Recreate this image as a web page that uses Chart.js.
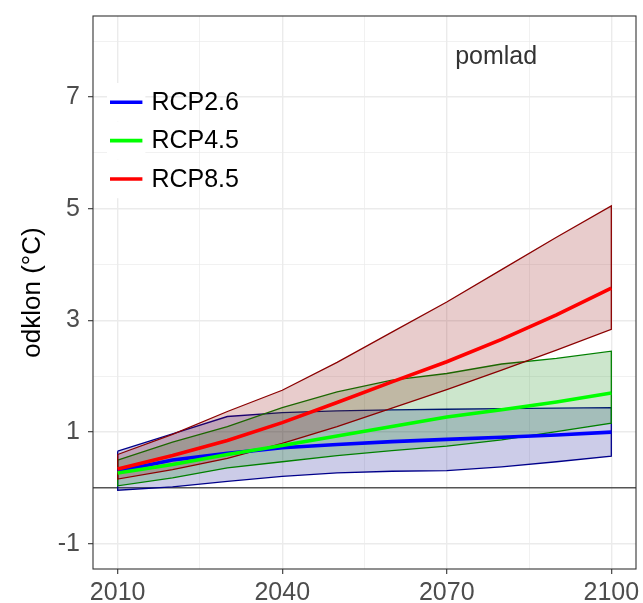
<!DOCTYPE html>
<html>
<head>
<meta charset="utf-8">
<script src="https://cdn.jsdelivr.net/npm/chart.js@4/dist/chart.umd.min.js"></script>
<style>
  html, body { margin: 0; padding: 0; background: #ffffff; }
  #wrap { width: 643px; height: 603px; }
</style>
</head>
<body>
<div id="wrap"><canvas id="c" width="643" height="603"></canvas></div>
<script>
// Spring temperature anomaly projections (°C), decadal steps
const years = [2010, 2020, 2030, 2040, 2050, 2060, 2070, 2080, 2090, 2100];

const rcp26Lower = [-0.04, 0.02, 0.12, 0.21, 0.27, 0.30, 0.31, 0.38, 0.47, 0.57];
const rcp26Mean  = [0.30, 0.50, 0.62, 0.72, 0.78, 0.83, 0.87, 0.91, 0.95, 1.00];
const rcp26Upper = [0.66, 0.97, 1.28, 1.35, 1.38, 1.40, 1.41, 1.42, 1.43, 1.44];

const rcp45Lower = [0.04, 0.18, 0.36, 0.47, 0.58, 0.67, 0.75, 0.86, 1.01, 1.16];
const rcp45Mean  = [0.27, 0.42, 0.60, 0.76, 0.93, 1.10, 1.27, 1.40, 1.54, 1.70];
const rcp45Upper = [0.50, 0.82, 1.10, 1.44, 1.72, 1.93, 2.05, 2.22, 2.32, 2.45];

const rcp85Lower = [0.16, 0.33, 0.53, 0.80, 1.10, 1.43, 1.76, 2.11, 2.47, 2.84];
const rcp85Mean  = [0.34, 0.58, 0.85, 1.17, 1.53, 1.90, 2.26, 2.66, 3.10, 3.58];
const rcp85Upper = [0.60, 0.96, 1.37, 1.75, 2.25, 2.79, 3.33, 3.91, 4.49, 5.05];

const scenarioNames = ['RCP2.6', 'RCP4.5', 'RCP8.5'];
const xMajorTicks = [2010, 2040, 2070, 2100];
const xMinorTicks = [2025, 2055, 2085];
const yMajorTicks = [-1, 1, 3, 5, 7];
const yMinorTicks = [0, 2, 4, 6, 8];
const seasonLabel = 'pomlad';
const yTitle = 'odklon (°C)';

const FONT = "'Liberation Sans', Arial, sans-serif";
const GRID = '#EBEBEB';
const INK = '#333333';
const TICK_TEXT = '#4D4D4D';

const scenarios = [
  { name: scenarioNames[0], lower: rcp26Lower, mean: rcp26Mean, upper: rcp26Upper,
    edge: '#00008B', fillColor: 'rgba(0,0,139,0.2)', line: '#0000FF' },
  { name: scenarioNames[1], lower: rcp45Lower, mean: rcp45Mean, upper: rcp45Upper,
    edge: '#008000', fillColor: 'rgba(0,128,0,0.2)', line: '#00FF00' },
  { name: scenarioNames[2], lower: rcp85Lower, mean: rcp85Mean, upper: rcp85Upper,
    edge: '#8B0000', fillColor: 'rgba(139,0,0,0.2)', line: '#FF0000' }
];

const pts = (vals) => years.map((yr, i) => ({ x: yr, y: vals[i] }));

// Build datasets: band (lower + filled upper + closed outline) per scenario, then mean lines on top
const datasets = [];
let order = 100;
scenarios.forEach((s) => {
  const lowerIdx = datasets.length;
  datasets.push({
    label: s.name + ' min', data: pts(s.lower), borderWidth: 0, pointRadius: 0,
    fill: false, order: order--
  });
  datasets.push({
    label: s.name + ' max', data: pts(s.upper), borderWidth: 0, pointRadius: 0,
    fill: lowerIdx, backgroundColor: s.fillColor, order: order--
  });
  const ring = pts(s.upper).concat(pts(s.lower).reverse(), [{ x: years[0], y: s.upper[0] }]);
  datasets.push({
    label: s.name + ' band', data: ring, borderColor: s.edge, borderWidth: 1.3,
    pointRadius: 0, fill: false, order: order--
  });
});
scenarios.forEach((s) => {
  datasets.push({
    label: s.name, data: pts(s.mean), borderColor: s.line, borderWidth: 3.6,
    pointRadius: 0, fill: false, order: order--, borderCapStyle: 'butt'
  });
});

// Panel frame, inline legend keys and season annotation
const decorations = {
  id: 'decorations',
  afterDatasetsDraw(chart) {
    const { ctx, chartArea: a, scales } = chart;
    ctx.save();
    // legend: white key boxes with coloured line samples
    const keyLeft = a.left + 14, keyTop = a.top + 67, keySize = 38.4;
    scenarios.forEach((s, i) => {
      const top = keyTop + i * keySize;
      ctx.fillStyle = '#ffffff';
      ctx.fillRect(keyLeft, top, keySize, keySize);
      ctx.strokeStyle = s.line;
      ctx.lineWidth = 3.6;
      ctx.beginPath();
      ctx.moveTo(keyLeft + 3, top + keySize / 2);
      ctx.lineTo(keyLeft + keySize - 3, top + keySize / 2);
      ctx.stroke();
      ctx.fillStyle = '#000000';
      ctx.font = '25px ' + FONT;
      ctx.textAlign = 'left';
      ctx.textBaseline = 'middle';
      ctx.fillText(s.name, keyLeft + keySize + 6, top + keySize / 2 + 1);
    });
    // season label
    ctx.fillStyle = INK;
    ctx.font = '25px ' + FONT;
    ctx.textAlign = 'center';
    ctx.textBaseline = 'middle';
    ctx.fillText(seasonLabel, scales.x.getPixelForValue(2079), scales.y.getPixelForValue(7.72));
    // panel border
    ctx.strokeStyle = INK;
    ctx.lineWidth = 1.1;
    ctx.strokeRect(a.left, a.top, a.right - a.left, a.bottom - a.top);
    ctx.restore();
  }
};

const isMajorX = (v) => xMajorTicks.includes(v);
const isMajorY = (v) => yMajorTicks.includes(v);

new Chart(document.getElementById('c'), {
  type: 'line',
  data: { datasets },
  options: {
    responsive: false,
    animation: false,
    devicePixelRatio: 1,
    layout: { padding: { left: 0, top: 16, right: 7, bottom: 0 } },
    elements: { line: { tension: 0 } },
    plugins: {
      legend: { display: false },
      tooltip: { enabled: false },
      filler: { propagate: false }
    },
    scales: {
      x: {
        type: 'linear',
        min: 2005.5,
        max: 2104.5,
        afterBuildTicks(scale) {
          scale.ticks = xMajorTicks.concat(xMinorTicks).sort((p, q) => p - q).map((v) => ({ value: v }));
        },
        afterFit(scale) {
          scale.height = 34;
          scale.paddingLeft = 0;
          scale.paddingRight = 0;
        },
        ticks: {
          autoSkip: false,
          maxRotation: 0,
          padding: 4,
          color: TICK_TEXT,
          font: { family: FONT, size: 25 },
          callback: (v) => (isMajorX(v) ? String(v) : '')
        },
        grid: {
          color: GRID,
          lineWidth: (c) => (c.tick && isMajorX(c.tick.value) ? 1.4 : 0.7),
          tickColor: (c) => (c.tick && isMajorX(c.tick.value) ? INK : 'rgba(0,0,0,0)'),
          tickWidth: 1.1,
          tickLength: 5
        },
        border: { display: false }
      },
      y: {
        type: 'linear',
        min: -1.45,
        max: 8.45,
        afterBuildTicks(scale) {
          scale.ticks = yMajorTicks.concat(yMinorTicks).sort((p, q) => p - q).map((v) => ({ value: v }));
        },
        afterFit(scale) {
          scale.width = 93;
          scale.paddingTop = 0;
          scale.paddingBottom = 0;
        },
        title: {
          display: true,
          text: yTitle,
          color: '#000000',
          font: { family: FONT, size: 26 },
          padding: { top: 17, bottom: 0 }
        },
        ticks: {
          autoSkip: false,
          padding: 8,
          color: TICK_TEXT,
          font: { family: FONT, size: 25 },
          callback: (v) => (isMajorY(v) ? String(v) : '')
        },
        grid: {
          color: (c) => (c.tick && c.tick.value === 0 ? '#555555' : GRID),
          lineWidth: (c) => (c.tick && (isMajorY(c.tick.value) || c.tick.value === 0) ? 1.4 : 0.7),
          tickColor: (c) => (c.tick && isMajorY(c.tick.value) ? INK : 'rgba(0,0,0,0)'),
          tickWidth: 1.1,
          tickLength: 5
        },
        border: { display: false }
      }
    }
  },
  plugins: [decorations]
});
</script>
</body>
</html>
